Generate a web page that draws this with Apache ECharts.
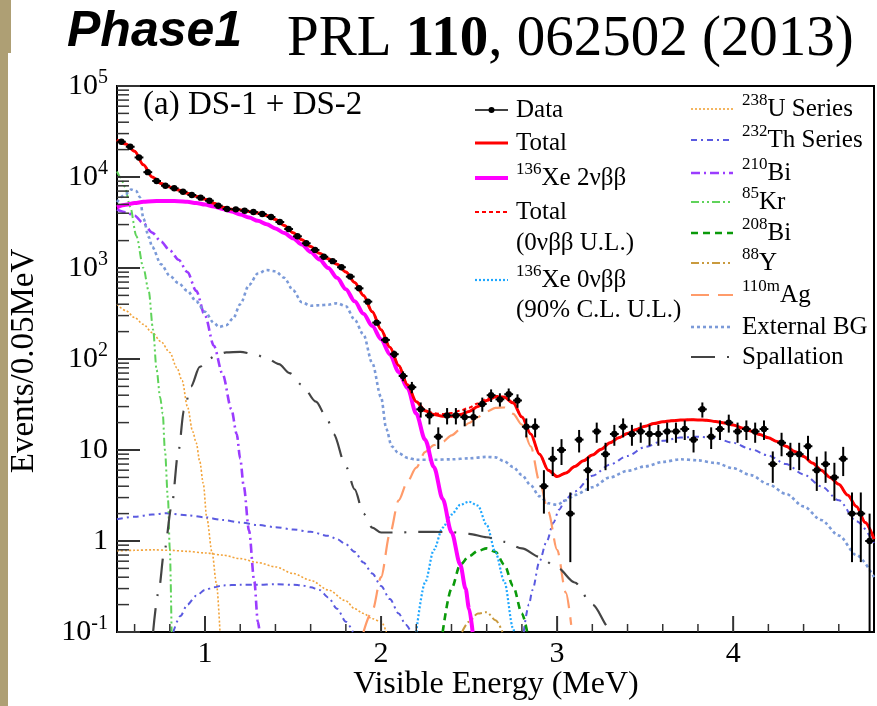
<!DOCTYPE html>
<html>
<head>
<meta charset="utf-8">
<script src="https://cdn.jsdelivr.net/npm/echarts@6/dist/echarts.min.js"></script>
<style>
  html, body { margin: 0; padding: 0; background: #fff; }
  #chart { width: 877px; height: 706px; }
</style>
</head>
<body>
<div id="chart"></div>
<script>
// ---------- measured spectrum (events per 0.05 MeV bin) ----------
const dataEnergy = [
  0.525,0.575,0.625,0.675,0.725,0.775,0.825,0.875,0.925,0.975,
  1.025,1.075,1.125,1.175,1.225,1.275,1.325,1.375,1.425,1.475,
  1.525,1.575,1.625,1.675,1.725,1.775,1.825,1.875,1.925,1.975,
  2.025,2.075,2.125,2.175,2.225,2.275,2.325,2.375,2.425,2.475,
  2.525,2.575,2.625,2.675,2.725,2.775,2.825,2.875,2.925,2.975,
  3.025,3.075,3.125,3.175,3.225,3.275,3.325,3.375,3.425,3.475,
  3.525,3.575,3.625,3.675,3.725,3.775,3.825,3.875,3.925,3.975,
  4.025,4.075,4.125,4.175,4.225,4.275,4.325,4.375,4.425,4.475,
  4.525,4.575,4.625,4.675,4.725,4.775
];
const dataCounts = [
  24400,21500,16400,11300,9040,8020,7510,6890,6340,5930,
  5490,4840,4450,4410,4260,4120,3920,3630,3200,2680,
  2230,1870,1580,1330,1190,1020,804,598,427,251,
  162,113,65,49,28,24,14,24,24,23,
  23,32,40,36,41,35,18,18,4,8,
  10,2,13,6,16,9,15,18,15,16,
  15,15,16,16,17,13,28,14,17,20,
  16,17,16,17,7,12,9,9,11,6,
  7,5,8,2,2,1
];
const BIN_WIDTH = 0.05;

// ---------- fit components ----------
const totalEnergy = [
  0.50,0.55,0.60,0.65,0.70,0.75,0.80,0.85,0.90,0.95,
  1.00,1.05,1.10,1.15,1.20,1.25,1.30,1.35,1.40,1.45,
  1.50,1.55,1.60,1.65,1.70,1.75,1.80,1.85,1.90,1.95,
  2.00,2.05,2.10,2.15,2.20,2.25,2.30,2.35,2.40,2.45,
  2.50,2.55,2.60,2.65,2.70,2.75,2.80,2.85,2.90,2.95,
  3.00,3.05,3.10,3.15,3.20,3.25,3.30,3.35,3.40,3.45,
  3.50,3.55,3.60,3.65,3.70,3.75,3.80,3.85,3.90,3.95,
  4.00,4.05,4.10,4.15,4.20,4.25,4.30,4.35,4.40,4.45,
  4.50,4.55,4.60,4.65,4.70,4.75,4.80
];
const totalFit = [
  25500,23000,19200,13600,10000,8500,7750,7200,6620,6130,
  5700,5150,4650,4430,4330,4190,4020,3780,3410,2930,
  2440,2040,1720,1450,1260,1100,905,695,500,330,
  210,135,85,52,34,27,24.5,23.5,23.5,24.5,
  26.5,30,35,38.5,38,33,23,15,9,6,
  5.1,5.6,6.6,7.6,8.8,10.2,12,13.6,15.2,16.8,
  18.2,19.5,20.4,21,21.3,21.5,21.4,21.2,20.6,19.8,
  18.8,17.5,16.2,14.8,13.6,12.4,11,9.6,8.5,7.2,
  6.0,5.0,4.2,3.2,2.4,1.6,1.05
];
const totalWithUL = [
  25500,23000,19200,13600,10000,8500,7750,7200,6620,6130,
  5700,5150,4650,4430,4330,4190,4020,3780,3410,2930,
  2440,2040,1720,1450,1260,1100,905,695,500,330,
  210,135,85,52,34.1,27.4,25.3,24.9,25.5,27,
  29.2,32.5,36.5,39.3,38.4,33.1,23,15,9,6,
  5.1,5.6,6.6,7.6,8.8,10.2,12,13.6,15.2,16.8,
  18.2,19.5,20.4,21,21.3,21.5,21.4,21.2,20.6,19.8,
  18.8,17.5,16.2,14.8,13.6,12.4,11,9.6,8.5,7.2,
  6.0,5.0,4.2,3.2,2.4,1.6,1.05
];

const xe2nuEnergy = [0.50,0.55,0.60,0.65,0.70,0.75,0.80,0.85,0.90,0.95,1.00,1.05,1.10,1.15,1.20,1.25,1.30,1.35,1.40,1.45,1.50,1.55,1.60,1.65,1.70,1.75,1.80,1.85,1.90,1.95,2.00,2.05,2.10,2.15,2.20,2.25,2.30,2.35,2.40,2.45,2.48,2.50,2.52];
const xe2nuFit = [4640,4950,5180,5330,5420,5460,5460,5420,5330,5180,4980,4740,4460,4170,3880,3580,3300,3020,2720,2420,2120,1810,1500,1240,1000,780,585,430,315,230,165,112,72,48,25,13,6.5,2.9,1.25,0.55,0.3,0.18,0.1];

const xe0nuEnergy = [2.20,2.25,2.30,2.35,2.40,2.45,2.50,2.55,2.60,2.65,2.70,2.75,2.76];
const xe0nuFit = [0.1,0.35,0.8,1.4,1.95,2.5,2.7,2.45,1.5,0.75,0.36,0.11,0.09];

const u238AEnergy = [0.50,0.55,0.60,0.65,0.70,0.75,0.80,0.84,0.87,0.90,0.93,0.95,0.97,0.99,1.01,1.04,1.065,1.085];
const u238A = [399,340,285,240,195,155,118,80,58,30,16,12,7.5,4.3,1.8,0.75,0.34,0.1];
const u238BEnergy = [0.50,0.60,0.70,0.80,0.90,1.00,1.10,1.20,1.30,1.40,1.50,1.60,1.70,1.80,1.85,1.90,1.95,2.00,2.03];
const u238B = [0.78,0.79,0.8,0.79,0.77,0.74,0.7,0.64,0.58,0.52,0.44,0.37,0.29,0.22,0.18,0.16,0.14,0.13,0.1];

const th232AEnergy = [0.50,0.60,0.70,0.78,0.90,1.00,1.10,1.20,1.30,1.40,1.50,1.60,1.70,1.75,1.80,1.85,1.90,1.95,2.00,2.05,2.10,2.14,2.17];
const th232A = [1.73,1.85,1.95,2.02,1.92,1.82,1.7,1.6,1.5,1.42,1.34,1.26,1.14,1.05,0.92,0.76,0.58,0.44,0.32,0.23,0.16,0.12,0.1];
const th232BEnergy = [0.82,0.86,0.90,0.95,1.00,1.05,1.10,1.20,1.30,1.40,1.50,1.55,1.60,1.65,1.70,1.75,1.80,1.84];
const th232B = [0.1,0.15,0.2,0.25,0.29,0.31,0.325,0.33,0.33,0.335,0.33,0.325,0.31,0.29,0.24,0.18,0.13,0.1];
const th232CEnergy = [2.81,2.84,2.86,2.90,2.94,2.98,3.01,3.05,3.10,3.20,3.30,3.40,3.50,3.60,3.70,3.80,3.90,4.00,4.10,4.20,4.30,4.40,4.50,4.60,4.70,4.80];
const th232C = [0.1,0.2,0.29,0.6,0.98,1.6,2.2,2.9,3.5,5.2,6.9,8.6,10.8,12.6,13.7,14.0,13.5,12,10.2,8.7,7.0,5.4,4.0,2.8,1.65,0.95];

const bi210Energy = [0.50,0.55,0.60,0.65,0.70,0.75,0.80,0.85,0.90,0.95,1.00,1.05,1.10,1.15,1.18,1.20,1.22,1.25,1.28,1.30,1.31];
const bi210 = [4400,4100,3750,3100,2450,1950,1560,1230,900,560,300,140,68,28,15,8,4,1.3,0.36,0.13,0.1];

const kr85Energy = [0.50,0.52,0.545,0.575,0.61,0.65,0.68,0.705,0.725,0.745,0.76,0.772,0.79,0.80,0.81];
const kr85 = [11500,10000,7800,4700,2250,1000,560,210,76,38,25,10,2.8,0.8,0.1];

const bi208Energy = [2.35,2.40,2.45,2.50,2.55,2.60,2.65,2.70,2.75,2.80,2.83];
const bi208 = [0.1,0.3,0.55,0.68,0.78,0.83,0.76,0.55,0.32,0.16,0.1];

const y88Energy = [2.46,2.50,2.55,2.60,2.65,2.69];
const y88 = [0.1,0.13,0.16,0.165,0.135,0.1];

const ag110mEnergy = [1.90,1.95,2.00,2.05,2.10,2.15,2.20,2.25,2.30,2.35,2.40,2.45,2.50,2.55,2.60,2.65,2.70,2.75,2.80,2.85,2.90,2.95,3.00,3.05,3.08];
const ag110m = [0.1,0.17,0.4,1.2,2.8,4.5,6.4,9.5,11.3,12.3,14.5,16.8,19.8,23,26.5,29,29.3,25,19,11,4.5,2.1,0.8,0.27,0.12];

const extBgEnergy = [0.50,0.55,0.58,0.61,0.63,0.65,0.68,0.70,0.75,0.80,0.85,0.90,0.95,1.00,1.05,1.08,1.12,1.16,1.20,1.25,1.30,1.35,1.40,1.45,1.50,1.55,1.60,1.65,1.70,1.75,1.80,1.85,1.90,1.95,2.00,2.03,2.06,2.10,2.15,2.20,2.30,2.40,2.50,2.60,2.65,2.70,2.75,2.80,2.85,2.90,2.95,3.00,3.05,3.10,3.20,3.30,3.40,3.50,3.60,3.70,3.80,3.90,4.00,4.10,4.20,4.30,4.40,4.50,4.60,4.70,4.80];
const extBg = [5300,6500,7300,7000,6000,3500,2200,1700,1100,820,680,560,430,330,250,225,235,280,400,650,870,950,920,780,570,420,385,390,395,410,380,270,185,90,38,17,11,9.2,8.2,7.8,7.8,7.9,8.1,8.4,8.3,7.5,6.5,5.3,4.1,3.1,2.6,2.5,2.8,3.2,3.9,5.0,5.9,6.6,7.4,7.9,7.7,7.2,6.3,5.3,4.2,3.3,2.4,1.7,1.15,0.7,0.4];

const spallEnergy = [0.705,0.735,0.77,0.81,0.85,0.88,0.92,0.97,1.02,1.07,1.12,1.20,1.28,1.35,1.42,1.48,1.55,1.63,1.69,1.73,1.80,1.85,1.90,1.95,2.00,2.10,2.20,2.30,2.40,2.50,2.60,2.70,2.80,2.90,3.00,3.10,3.20,3.30,3.32];
const spall = [0.1,0.27,0.8,2.4,10,27,50,82,100,112,118,120,113,102,88,70,52,34,23,15,6.6,3.7,2.0,1.4,1.24,1.24,1.26,1.26,1.25,1.2,1.1,0.98,0.83,0.67,0.51,0.35,0.2,0.11,0.1];

// ---------- axes ----------
const X_MIN = 0.5, X_MAX = 4.8, Y_MIN = 0.1, Y_MAX = 1e5;
const xMajorTicks = [1, 2, 3, 4];
const xMinorTicks = [0.6,0.8,1.2,1.4,1.6,1.8,2.2,2.4,2.6,2.8,3.2,3.4,3.6,3.8,4.2,4.4,4.6];
const yMajorTicks = [0.1, 1, 10, 100, 1000, 10000, 100000];
const yMinorMantissas = [2, 3, 4, 5, 6, 7, 8, 9];

const SERIF = "'Liberation Serif','Times New Roman',serif";
const SANS = "'Liberation Sans',Arial,sans-serif";

const yMinorTicks = [];
yMajorTicks.slice(0, -1).forEach(d => yMinorMantissas.forEach(m => yMinorTicks.push(m * d)));

const zip = (xs, ys) => xs.map((x, i) => [x, ys[i]]);

function curve(name, xs, ys, color, width, dash) {
  return {
    type: 'line', name, data: zip(xs, ys),
    showSymbol: false, symbol: 'none', silent: true, clip: true,
    smooth: 0.3, smoothMonotone: 'x',
    lineStyle: { color, width, type: dash, cap: 'butt' }
  };
}

// tick marks drawn inward from the frame, positioned through the axis scales
function tickSeries(values, isX, len, width) {
  return {
    type: 'custom', silent: true, clip: false, z: 5,
    data: values.map(v => isX ? [v, Y_MIN] : [X_MIN, v]),
    renderItem(params, api) {
      const p = api.coord([api.value(0), api.value(1)]);
      const shape = isX
        ? { x1: p[0], y1: p[1], x2: p[0], y2: p[1] - len }
        : { x1: p[0], y1: p[1], x2: p[0] + len, y2: p[1] };
      return { type: 'line', shape, style: { stroke: '#333', lineWidth: width } };
    }
  };
}

const dataSeries = {
  type: 'custom', name: 'Data', silent: true, z: 10, clip: true,
  data: zip(dataEnergy, dataCounts),
  renderItem(params, api) {
    const e = api.value(0), n = api.value(1), err = Math.sqrt(n);
    const lo = Math.max(n - err, Y_MIN);
    const pLo = api.coord([e, lo]);
    const pHi = api.coord([e, n + err]);
    const pL = api.coord([e - BIN_WIDTH / 2, n]);
    const pR = api.coord([e + BIN_WIDTH / 2, n]);
    const c = api.coord([e, n]);
    return {
      type: 'group',
      children: [
        { type: 'line', shape: { x1: pLo[0], y1: pLo[1], x2: pHi[0], y2: pHi[1] }, style: { stroke: '#000', lineWidth: 2 } },
        { type: 'line', shape: { x1: pL[0], y1: pL[1], x2: pR[0], y2: pR[1] }, style: { stroke: '#000', lineWidth: 2 } },
        { type: 'circle', shape: { cx: c[0], cy: c[1], r: 3.2 }, style: { fill: '#000' } }
      ]
    };
  }
};

// line styles of each component
const ST = {
  u238:   { color: '#f2a33a', width: 1.6, dash: [2, 2] },
  th232:  { color: '#5a5ae0', width: 2, dash: [6, 4, 2, 4] },
  bi210:  { color: '#9b3cff', width: 2.6, dash: [9, 4, 2, 4] },
  kr85:   { color: '#5fd35a', width: 2, dash: [8, 3, 2, 3, 2, 3] },
  bi208:  { color: '#0a9a0a', width: 2.6, dash: [7, 5] },
  y88:    { color: '#c99a3e', width: 2, dash: [8, 3, 2, 3, 2, 3] },
  ag110m: { color: '#ff9b6a', width: 2.2, dash: [18, 9] },
  extBg:  { color: '#7b9ad8', width: 2.6, dash: [3, 3] },
  spall:  { color: '#444444', width: 2.2, dash: [24, 12, 2, 12] },
  xe0nu:  { color: '#1ea7ff', width: 2.2, dash: [2, 2] },
  totUL:  { color: '#ff0000', width: 2, dash: [4, 3] },
  total:  { color: '#ff0000', width: 3, dash: 'solid' },
  xe2nu:  { color: '#ff00ff', width: 4, dash: 'solid' }
};
const C = (name, key, xs, ys) => curve(name, xs, ys, ST[key].color, ST[key].width, ST[key].dash);

const series = [
  C('238U Series', 'u238', u238AEnergy, u238A),
  C('238U Series', 'u238', u238BEnergy, u238B),
  C('232Th Series', 'th232', th232AEnergy, th232A),
  C('232Th Series', 'th232', th232BEnergy, th232B),
  C('232Th Series', 'th232', th232CEnergy, th232C),
  C('210Bi', 'bi210', bi210Energy, bi210),
  C('85Kr', 'kr85', kr85Energy, kr85),
  C('208Bi', 'bi208', bi208Energy, bi208),
  C('88Y', 'y88', y88Energy, y88),
  C('136Xe 0vbb', 'xe0nu', xe0nuEnergy, xe0nuFit),
  C('110mAg', 'ag110m', ag110mEnergy, ag110m),
  C('External BG', 'extBg', extBgEnergy, extBg),
  C('Spallation', 'spall', spallEnergy, spall),
  C('136Xe 2vbb', 'xe2nu', xe2nuEnergy, xe2nuFit),
  C('Total (0vbb U.L.)', 'totUL', totalEnergy, totalWithUL),
  C('Total', 'total', totalEnergy, totalFit),
  dataSeries,
  tickSeries(xMajorTicks, true, 16, 2),
  tickSeries(xMinorTicks, true, 8, 1.5),
  tickSeries(yMajorTicks, false, 23, 2),
  tickSeries(yMinorTicks, false, 12, 1.5)
];

// ---------- legend (two columns) ----------
const LEG_RICH = {
  m: { fontFamily: SERIF, fontSize: 25, lineHeight: 34, fill: '#000' },
  s: { fontFamily: SERIF, fontSize: 17, lineHeight: 16, fill: '#000', verticalAlign: 'top' }
};
const legendLeft = [
  { y: 110, key: 'data',  text: '{m|Data}' },
  { y: 143, key: 'total', text: '{m|Total}' },
  { y: 178, key: 'xe2nu', text: '{s|136}{m|Xe 2νββ}' },
  { y: 212, key: 'totUL', text: '{m|Total}' },
  { y: 243, key: null,    text: '{m|(0νββ U.L.)}' },
  { y: 280, key: 'xe0nu', text: '{s|136}{m|Xe 0νββ}' },
  { y: 310, key: null,    text: '{m|(90% C.L. U.L.)}' }
];
const legendRight = [
  { y: 109, key: 'u238',   text: '{s|238}{m|U Series}' },
  { y: 140, key: 'th232',  text: '{s|232}{m|Th Series}' },
  { y: 173, key: 'bi210',  text: '{s|210}{m|Bi}' },
  { y: 202, key: 'kr85',   text: '{s|85}{m|Kr}' },
  { y: 233, key: 'bi208',  text: '{s|208}{m|Bi}' },
  { y: 263, key: 'y88',    text: '{s|88}{m|Y}' },
  { y: 295, key: 'ag110m', text: '{s|110m}{m|Ag}' },
  { y: 327, key: 'extBg',  text: '{m|External BG}' },
  { y: 357, key: 'spall',  text: '{m|Spallation}' }
];

function legendItems(rows, x1, x2, tx) {
  const out = [];
  rows.forEach(r => {
    if (r.key === 'data') {
      out.push({ type: 'line', shape: { x1, y1: r.y, x2, y2: r.y }, style: { stroke: '#000', lineWidth: 1.5 }, z: 100 });
      out.push({ type: 'circle', shape: { cx: (x1 + x2) / 2, cy: r.y, r: 3 }, style: { fill: '#000' }, z: 100 });
    } else if (r.key) {
      const s = ST[r.key];
      out.push({
        type: 'line', shape: { x1, y1: r.y, x2, y2: r.y }, z: 100,
        style: { stroke: s.color, lineWidth: s.width, lineDash: Array.isArray(s.dash) ? s.dash : null }
      });
    }
    out.push({
      type: 'text', x: tx, y: r.y, z: 100,
      style: { text: r.text, rich: LEG_RICH, align: 'left', verticalAlign: 'middle' }
    });
  });
  return out;
}

const graphic = [
  // slide edge
  { type: 'rect', shape: { x: 0, y: 0, width: 11, height: 53 }, style: { fill: '#ae9f74' }, z: 0 },
  { type: 'rect', shape: { x: 0, y: 53, width: 8, height: 653 }, style: { fill: '#ae9f74' }, z: 0 },
  // titles
  { type: 'text', x: 67, y: 32, style: { text: 'Phase1', font: 'italic bold 50px ' + SANS, fill: '#000', align: 'left', verticalAlign: 'middle' } },
  {
    type: 'text', x: 287, y: 40,
    style: {
      text: '{r|PRL }{b|110}{r|, 062502 (2013)}', align: 'left', verticalAlign: 'middle',
      rich: {
        r: { fontFamily: SERIF, fontSize: 57, fill: '#000' },
        b: { fontFamily: SERIF, fontSize: 57, fontWeight: 'bold', fill: '#000' }
      }
    }
  },
  { type: 'text', x: 143, y: 105, z: 100, style: { text: '(a) DS-1 + DS-2', font: '33px ' + SERIF, fill: '#000', align: 'left', verticalAlign: 'middle' } },
  // axis titles
  { type: 'text', x: 496, y: 685, style: { text: 'Visible Energy (MeV)', font: '32px ' + SERIF, fill: '#000', align: 'center', verticalAlign: 'middle' } },
  { type: 'text', x: 24, y: 361, rotation: Math.PI / 2, style: { text: 'Events/0.05MeV', font: '33px ' + SERIF, fill: '#000', align: 'center', verticalAlign: 'middle' } },
  ...legendItems(legendLeft, 475, 508, 516),
  ...legendItems(legendRight, 691, 733, 742)
];

const isInt = v => Math.abs(v - Math.round(v)) < 1e-9;

const option = {
  animation: false,
  backgroundColor: '#fff',
  grid: { left: 117, right: 2, top: 86, bottom: 74, show: true, borderColor: '#000', borderWidth: 2, backgroundColor: 'transparent' },
  xAxis: {
    type: 'value', min: X_MIN, max: X_MAX,
    axisLine: { show: false }, axisTick: { show: false }, splitLine: { show: false },
    axisLabel: {
      margin: 7, color: '#000', fontFamily: SERIF, fontSize: 30,
      formatter: v => (isInt(v) && xMajorTicks.includes(Math.round(v))) ? String(Math.round(v)) : ''
    }
  },
  yAxis: {
    type: 'log', logBase: 10, min: Y_MIN, max: Y_MAX,
    axisLine: { show: false }, axisTick: { show: false }, splitLine: { show: false },
    minorTick: { show: false },
    axisLabel: {
      margin: 9, color: '#000',
      formatter: v => {
        const p = Math.round(Math.log10(v));
        if (p === 0) return '{b|1}';
        if (p === 1) return '{b|10}';
        return '{b|10}{s|' + p + '}';
      },
      rich: {
        b: { fontFamily: SERIF, fontSize: 30, lineHeight: 36, color: '#000' },
        s: { fontFamily: SERIF, fontSize: 20, lineHeight: 20, color: '#000', verticalAlign: 'top' }
      }
    }
  },
  series,
  graphic
};

const chart = echarts.init(document.getElementById('chart'), null, { renderer: 'canvas' });
chart.setOption(option);
</script>
</body>
</html>
